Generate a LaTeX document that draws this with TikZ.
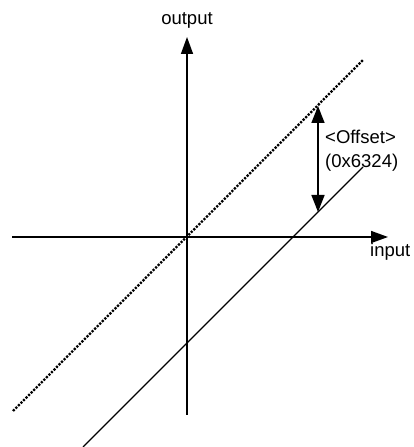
\documentclass[tikz,border=0pt]{standalone}
\usepackage{fontspec}
\setmainfont{Liberation Sans}
\usetikzlibrary{arrows.meta}
\begin{document}
\begin{tikzpicture}[x=1pt, y=1pt,
    axis/.style={line width=1.5pt, -{Triangle[length=17pt, width=12pt]}},
    offsetarrow/.style={line width=1.5pt, {Triangle[length=17pt, width=13pt]}-{Triangle[length=17pt, width=13pt]}},
    ideal/.style={line width=2.3pt, dash pattern=on 2.2pt off 1.4pt},
    real/.style={line width=1.4pt},
    lbl/.style={inner sep=0pt, font=\fontsize{18.5}{22}\selectfont}]
    \useasboundingbox (0,0) rectangle (414,447);

    % Axes
    \coordinate (xl) at (12,210);
    \coordinate (xr) at (388,210);
    \coordinate (yb) at (187,32);
    \coordinate (yt) at (187,410);
    \draw[axis] (xl) -- (xr);
    \draw[axis] (yb) -- (yt);

    % Ideal and offset transfer lines
    \coordinate (dl) at (13,36);
    \coordinate (du) at (363,387);
    \coordinate (sl) at (83,0);
    \coordinate (su) at (363,280);
    \draw[ideal] (dl) -- (du);
    \draw[real] (sl) -- (su);

    % Offset
    \coordinate (ot) at (318,341);
    \coordinate (ob) at (318,235);
    \draw[offsetarrow] (ob) -- (ot);

    \node[lbl, anchor=center] (outlbl) at (187,427) {output};
    \node[lbl, anchor=west] (inlbl) at (370,195) {input};
    \node[lbl, anchor=west] (offlbl) at (325,310) {<Offset>};
    \node[lbl, anchor=west] (vallbl) at (325,284) {(0x6324)};
\end{tikzpicture}
\end{document}
